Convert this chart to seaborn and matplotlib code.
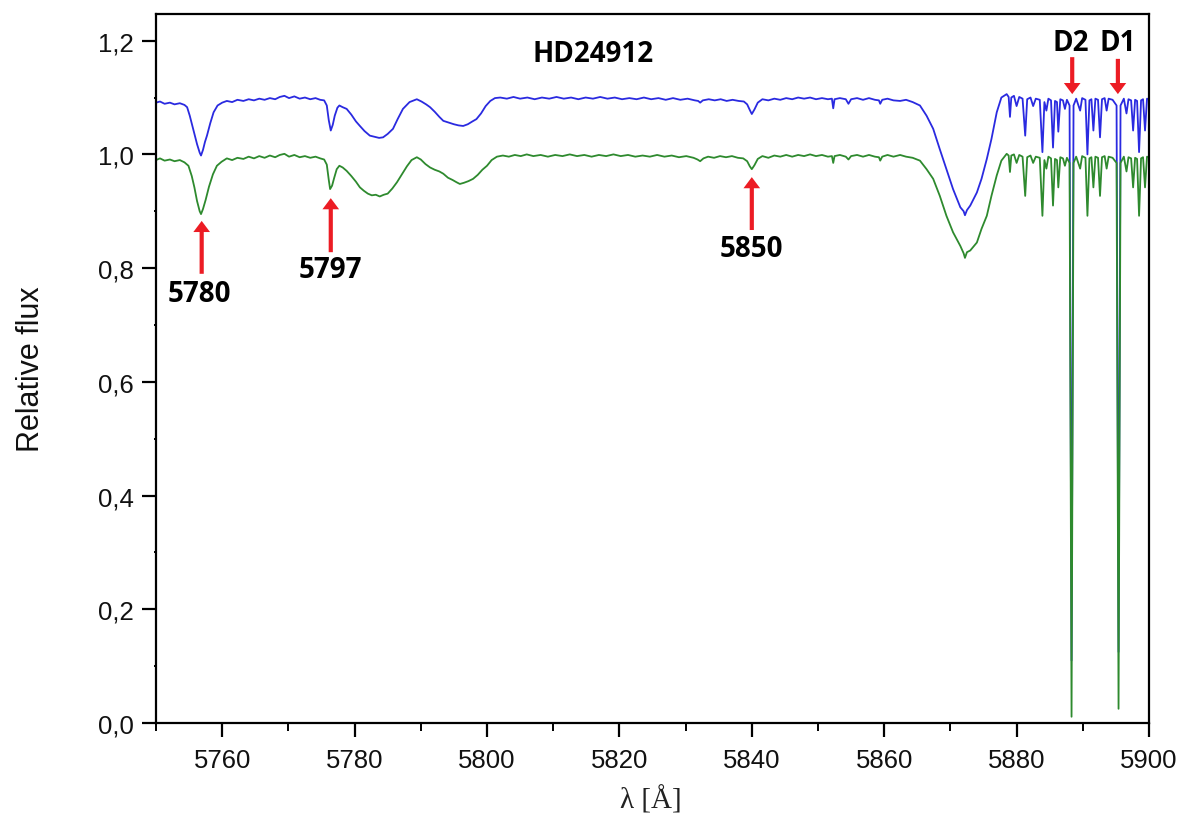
import matplotlib
matplotlib.use("Agg")
import matplotlib.pyplot as plt
import seaborn as sns
import pandas as pd
from matplotlib.ticker import MultipleLocator, FuncFormatter

# ---------------- data ----------------
green_wave = [5750.0, 5750.6, 5751.3, 5752.1, 5752.8, 5753.6, 5754.3, 5754.9, 5755.4, 5755.8,
              5756.2, 5756.6, 5756.8, 5757.1, 5757.5, 5758.0, 5758.6, 5759.2, 5759.9, 5760.7,
              5761.5, 5762.3, 5763.2, 5764.0, 5764.8, 5765.6, 5766.4, 5767.2, 5768.0, 5768.7,
              5769.4, 5770.1, 5770.9, 5771.7, 5772.5, 5773.3, 5774.1, 5774.8, 5775.4, 5775.8,
              5776.1, 5776.3, 5776.6, 5776.9, 5777.3, 5777.7, 5778.2, 5778.8, 5779.5, 5780.2,
              5780.8, 5781.4, 5782.0, 5782.6, 5783.2, 5783.8, 5784.4, 5785.0, 5785.7, 5786.4,
              5787.1, 5787.9, 5788.6, 5789.4, 5790.0, 5790.7, 5791.4, 5792.1, 5792.8, 5793.4,
              5794.1, 5794.8, 5795.4, 5795.9, 5796.5, 5797.2, 5797.9, 5798.6, 5799.3, 5800.0,
              5800.7, 5801.5, 5802.4, 5803.3, 5804.2, 5805.1, 5806.0, 5807.0, 5808.1, 5809.2,
              5810.3, 5811.4, 5812.5, 5813.6, 5814.7, 5815.8, 5816.9, 5818.0, 5819.1, 5820.2,
              5821.3, 5822.4, 5823.5, 5824.6, 5825.7, 5826.8, 5827.9, 5829.0, 5830.1, 5831.2,
              5831.8, 5832.2, 5832.7, 5833.4, 5834.3, 5835.2, 5836.1, 5837.0, 5837.9, 5838.7,
              5839.3, 5839.7, 5840.0, 5840.4, 5840.9, 5841.6, 5842.5, 5843.4, 5844.3, 5845.2,
              5846.1, 5847.0, 5847.9, 5848.8, 5849.7, 5850.6, 5851.5, 5852.1, 5852.3, 5852.5,
              5853.3, 5854.2, 5854.6, 5855.0, 5855.9, 5856.8, 5857.7, 5858.6, 5859.2, 5859.4,
              5859.7, 5860.5, 5861.4, 5862.4, 5863.3, 5864.3, 5865.4, 5866.4, 5867.4, 5868.4,
              5869.4, 5870.4, 5871.5, 5872.0, 5872.2, 5872.5, 5873.0, 5874.0, 5874.7, 5875.5,
              5876.2, 5877.0, 5877.7, 5878.5, 5878.8, 5879.0, 5879.2, 5879.6, 5880.0, 5880.4,
              5880.9, 5881.3, 5881.6, 5882.1, 5882.5, 5882.9, 5883.5, 5883.9, 5884.2, 5884.5,
              5884.8, 5885.2, 5885.5, 5885.8, 5886.1, 5886.3, 5886.6, 5887.0, 5887.3, 5887.6,
              5888.0, 5888.3, 5888.6, 5889.0, 5889.6, 5889.9, 5890.4, 5890.7, 5891.0, 5891.3,
              5891.6, 5891.9, 5892.3, 5892.6, 5892.9, 5893.3, 5893.6, 5893.9, 5894.5, 5895.1,
              5895.4, 5895.7, 5896.2, 5896.6, 5896.9, 5897.3, 5897.6, 5897.9, 5898.2, 5898.5,
              5898.8, 5899.1, 5899.4, 5899.7, 5900.0]
green_flux = [0.990, 0.993, 0.989, 0.991, 0.988, 0.990, 0.986, 0.980, 0.962, 0.942,
              0.918, 0.900, 0.895, 0.904, 0.920, 0.943, 0.965, 0.980, 0.987, 0.993,
              0.990, 0.994, 0.992, 0.996, 0.993, 0.997, 0.994, 0.998, 0.995, 0.999,
              1.001, 0.996, 0.999, 0.995, 0.997, 0.994, 0.996, 0.993, 0.991, 0.982,
              0.955, 0.939, 0.945, 0.958, 0.974, 0.980, 0.977, 0.971, 0.962, 0.952,
              0.942, 0.936, 0.931, 0.928, 0.929, 0.926, 0.929, 0.931, 0.940, 0.951,
              0.964, 0.979, 0.990, 0.995, 0.991, 0.983, 0.977, 0.973, 0.970, 0.966,
              0.959, 0.955, 0.951, 0.948, 0.950, 0.953, 0.957, 0.964, 0.973, 0.980,
              0.990, 0.996, 0.998, 0.996, 0.999, 0.997, 1.000, 0.997, 0.999, 0.996,
              0.999, 0.997, 1.000, 0.997, 0.999, 0.996, 0.999, 0.997, 1.000, 0.997,
              0.999, 0.996, 0.998, 0.996, 0.999, 0.996, 0.998, 0.995, 0.997, 0.994,
              0.991, 0.988, 0.993, 0.996, 0.994, 0.997, 0.995, 0.997, 0.994, 0.993,
              0.988, 0.979, 0.974, 0.981, 0.992, 0.997, 0.994, 0.998, 0.996, 0.999,
              0.996, 0.999, 0.997, 1.000, 0.997, 0.999, 0.996, 0.997, 0.985, 0.997,
              0.999, 0.996, 0.991, 0.997, 0.999, 0.996, 0.999, 0.996, 0.995, 0.989,
              0.996, 0.999, 0.996, 0.999, 0.996, 0.994, 0.989, 0.974, 0.957, 0.927,
              0.892, 0.863, 0.839, 0.826, 0.818, 0.828, 0.831, 0.845, 0.869, 0.892,
              0.927, 0.963, 0.989, 1.001, 0.998, 0.969, 0.998, 1.000, 0.985, 0.999,
              0.996, 0.927, 0.995, 0.998, 0.985, 0.996, 0.994, 0.892, 0.990, 0.975,
              0.996, 0.993, 0.910, 0.992, 0.990, 0.942, 0.995, 0.993, 0.980, 0.994,
              0.985, 0.011, 0.985, 0.996, 0.975, 0.997, 0.994, 0.892, 0.993, 0.995,
              0.942, 0.996, 0.994, 0.927, 0.995, 0.997, 0.975, 0.996, 0.994, 0.985,
              0.025, 0.985, 0.996, 0.970, 0.995, 0.993, 0.942, 0.994, 0.992, 0.892,
              0.993, 0.995, 0.942, 0.996, 0.995]

blue_wave = [5750.0, 5750.6, 5751.3, 5752.1, 5752.8, 5753.6, 5754.3, 5754.7, 5755.1, 5755.5,
             5755.8, 5756.2, 5756.6, 5756.8, 5757.1, 5757.4, 5757.7, 5758.2, 5758.7, 5759.3,
             5760.0, 5760.7, 5761.5, 5762.3, 5763.2, 5764.0, 5764.8, 5765.6, 5766.4, 5767.2,
             5768.0, 5768.7, 5769.4, 5770.1, 5770.9, 5771.7, 5772.5, 5773.3, 5774.1, 5774.8,
             5775.4, 5775.8, 5776.1, 5776.4, 5776.7, 5777.0, 5777.4, 5777.7, 5778.2, 5778.8,
             5779.5, 5780.2, 5780.8, 5781.5, 5782.3, 5783.0, 5783.7, 5784.3, 5785.0, 5785.8,
             5786.5, 5787.3, 5788.3, 5789.4, 5790.1, 5790.8, 5791.4, 5792.1, 5792.8, 5793.4,
             5794.2, 5795.0, 5795.7, 5796.4, 5797.1, 5797.8, 5798.4, 5799.1, 5799.8, 5800.5,
             5801.2, 5802.0, 5803.0, 5804.0, 5805.0, 5806.1, 5807.2, 5808.3, 5809.4, 5810.5,
             5811.6, 5812.7, 5813.8, 5814.9, 5816.0, 5817.1, 5818.2, 5819.3, 5820.4, 5821.5,
             5822.6, 5823.7, 5824.8, 5825.9, 5827.0, 5828.1, 5829.2, 5830.3, 5831.4, 5831.9,
             5832.2, 5832.6, 5833.5, 5834.4, 5835.3, 5836.2, 5837.1, 5838.0, 5838.8, 5839.3,
             5839.7, 5840.0, 5840.4, 5840.9, 5841.6, 5842.5, 5843.4, 5844.3, 5845.2, 5846.1,
             5847.0, 5847.9, 5848.8, 5849.7, 5850.6, 5851.5, 5852.1, 5852.3, 5852.5, 5853.3,
             5854.2, 5854.6, 5855.0, 5855.9, 5856.8, 5857.7, 5858.6, 5859.2, 5859.4, 5859.7,
             5860.5, 5861.4, 5862.4, 5863.3, 5864.3, 5865.4, 5866.4, 5867.4, 5868.4, 5869.4,
             5870.4, 5871.5, 5872.0, 5872.2, 5872.5, 5873.0, 5874.0, 5874.7, 5875.5, 5876.2,
             5877.0, 5877.7, 5878.5, 5878.8, 5879.0, 5879.2, 5879.6, 5880.0, 5880.4, 5880.9,
             5881.3, 5881.6, 5882.1, 5882.5, 5882.9, 5883.5, 5883.9, 5884.2, 5884.5, 5884.8,
             5885.2, 5885.5, 5885.8, 5886.1, 5886.3, 5886.6, 5887.0, 5887.3, 5887.6, 5888.0,
             5888.3, 5888.6, 5889.0, 5889.6, 5889.9, 5890.4, 5890.7, 5891.0, 5891.3, 5891.6,
             5891.9, 5892.3, 5892.6, 5892.9, 5893.3, 5893.6, 5893.9, 5894.5, 5895.1, 5895.4,
             5895.7, 5896.2, 5896.6, 5896.9, 5897.3, 5897.6, 5897.9, 5898.2, 5898.5, 5898.8,
             5899.1, 5899.4, 5899.7, 5900.0]
blue_flux = [1.091, 1.093, 1.089, 1.091, 1.088, 1.090, 1.087, 1.083, 1.068, 1.050,
             1.036, 1.018, 1.003, 0.998, 1.008, 1.022, 1.033, 1.055, 1.074, 1.086,
             1.091, 1.094, 1.092, 1.096, 1.094, 1.097, 1.095, 1.098, 1.096, 1.099,
             1.097, 1.101, 1.103, 1.099, 1.102, 1.098, 1.100, 1.097, 1.099, 1.096,
             1.095, 1.086, 1.060, 1.042, 1.052, 1.068, 1.082, 1.086, 1.083, 1.080,
             1.070, 1.058, 1.050, 1.041, 1.033, 1.031, 1.029, 1.030, 1.036, 1.045,
             1.062, 1.080, 1.092, 1.097, 1.093, 1.088, 1.083, 1.075, 1.066, 1.059,
             1.056, 1.053, 1.051, 1.050, 1.053, 1.058, 1.062, 1.072, 1.085, 1.094,
             1.099, 1.100, 1.098, 1.101, 1.098, 1.100, 1.097, 1.100, 1.098, 1.101,
             1.098, 1.100, 1.097, 1.100, 1.098, 1.101, 1.098, 1.100, 1.097, 1.099,
             1.097, 1.100, 1.097, 1.099, 1.096, 1.099, 1.096, 1.098, 1.095, 1.094,
             1.091, 1.095, 1.097, 1.095, 1.097, 1.094, 1.096, 1.094, 1.093, 1.088,
             1.078, 1.071, 1.079, 1.091, 1.097, 1.095, 1.098, 1.096, 1.099, 1.097,
             1.100, 1.098, 1.100, 1.097, 1.099, 1.097, 1.098, 1.081, 1.097, 1.099,
             1.097, 1.089, 1.097, 1.099, 1.096, 1.099, 1.096, 1.095, 1.089, 1.096,
             1.098, 1.095, 1.094, 1.096, 1.092, 1.086, 1.068, 1.045, 1.009, 0.974,
             0.939, 0.907, 0.900, 0.893, 0.902, 0.910, 0.933, 0.957, 0.992, 1.027,
             1.074, 1.100, 1.106, 1.101, 1.066, 1.100, 1.103, 1.085, 1.101, 1.098,
             1.033, 1.097, 1.100, 1.085, 1.098, 1.096, 1.004, 1.092, 1.077, 1.098,
             1.095, 1.012, 1.094, 1.092, 1.040, 1.097, 1.095, 1.080, 1.096, 1.086,
             0.110, 1.086, 1.098, 1.077, 1.099, 1.096, 1.000, 1.095, 1.097, 1.042,
             1.098, 1.096, 1.030, 1.097, 1.099, 1.077, 1.098, 1.096, 1.086, 0.125,
             1.086, 1.098, 1.072, 1.097, 1.095, 1.042, 1.096, 1.094, 1.004, 1.095,
             1.097, 1.042, 1.098, 1.097]

# annotation arrows (tail -> tip, data coords) and label positions
arrow_x = [5756.9, 5776.4, 5840.0, 5888.4, 5895.3]
arrow_tail = [0.790, 0.828, 0.867, 1.171, 1.168]
arrow_tip = [0.883, 0.923, 0.960, 1.106, 1.106]
label_text = ["5780", "5797", "5850", "D2", "D1"]
label_x = [5756.6, 5776.3, 5840.0, 5888.2, 5895.3]
label_y = [0.756, 0.797, 0.834, 1.196, 1.196]
title_text = "HD24912"
title_pos = (5816.0, 1.178)

# ---------------- plotting ----------------
sns.set_theme(style="ticks")
plt.rcParams["font.family"] = ["Liberation Sans", "DejaVu Sans"]

fig = plt.figure(figsize=(11.85, 8.28), dpi=100)
ax = fig.add_axes([156 / 1185, 104 / 828, 993 / 1185, 709 / 828])

df_b = pd.DataFrame({"wave": blue_wave, "flux": blue_flux})
df_g = pd.DataFrame({"wave": green_wave, "flux": green_flux})
sns.lineplot(data=df_b, x="wave", y="flux", ax=ax, color="#2a2ae0", lw=1.3,
             estimator=None, sort=False)
sns.lineplot(data=df_g, x="wave", y="flux", ax=ax, color="#2e8a2e", lw=1.3,
             estimator=None, sort=False)

ax.set_xlim(5750, 5900)
ax.set_ylim(0, 1.2469)
ax.xaxis.set_major_locator(MultipleLocator(20))
ax.xaxis.set_minor_locator(MultipleLocator(10))
ax.yaxis.set_major_locator(MultipleLocator(0.2))
ax.yaxis.set_minor_locator(MultipleLocator(0.1))
ax.yaxis.set_major_formatter(FuncFormatter(lambda v, p: f"{v:.1f}".replace(".", ",")))
ax.xaxis.set_major_formatter(FuncFormatter(lambda v, p: f"{v:.0f}"))

ax.tick_params(axis="both", which="major", direction="out", length=10, width=1.6,
               labelsize=18.5, color="black", labelcolor="#111111", pad=6)
ax.tick_params(axis="x", which="minor", direction="out", length=5.5, width=1.4,
               color="black")
ax.tick_params(axis="y", which="minor", direction="out", length=1.8, width=1.4,
               color="black")
ax.tick_params(axis="x", which="major", pad=8)
for s in ax.spines.values():
    s.set_visible(True)
    s.set_linewidth(1.6)
    s.set_color("black")

ax.set_xlabel("λ [Å]", fontsize=21, family=["Liberation Serif", "DejaVu Serif"],
              color="#222222")
ax.set_ylabel("Relative flux", fontsize=22, color="#111111")
ax.xaxis.set_label_coords(0.498, -0.088)
ax.yaxis.set_label_coords(-0.111, 0.5)

red = "#ec1c24"
for x, t0, t1 in zip(arrow_x, arrow_tail, arrow_tip):
    ax.annotate("", xy=(x, t1), xytext=(x, t0),
                arrowprops=dict(width=3, headwidth=12, headlength=8, shrink=0,
                                facecolor=red, edgecolor=red, lw=0))
for t, x, y in zip(label_text, label_x, label_y):
    ax.text(x, y, t, ha="center", va="center", fontsize=20, fontweight="bold",
            family=["Open Sans", "DejaVu Sans"], color="black")
ax.text(title_pos[0], title_pos[1], title_text, ha="center", va="center",
        fontsize=20, fontweight="bold", family=["Open Sans", "DejaVu Sans"], color="black")

fig.savefig("out.png", dpi=100, facecolor="white")
